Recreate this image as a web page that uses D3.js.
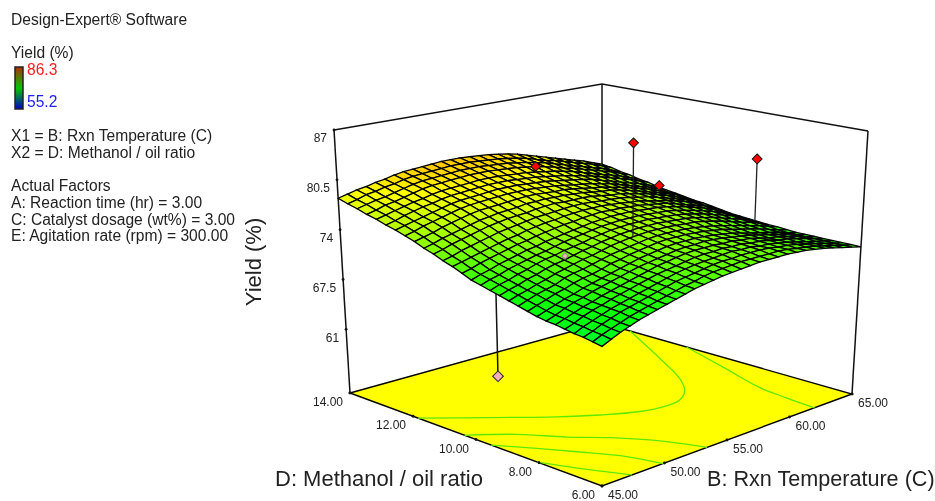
<!DOCTYPE html>
<html>
<head>
<meta charset="utf-8">
<style>
  html, body { margin: 0; padding: 0; background: #fff; }
  svg { display: block; filter: blur(0.5px); }
  text { font-family: "Liberation Sans", Arial, sans-serif; fill: #222; }
</style>
<script src="https://cdn.jsdelivr.net/npm/d3@7"></script>
</head>
<body>
<div id="chart"></div>
<script>
var infoLines = [
  ["Design-Expert® Software", 20],
  ["Yield (%)", 53],
  ["X1 = B: Rxn Temperature (C)", 136],
  ["X2 = D: Methanol / oil ratio", 153],
  ["Actual Factors", 186],
  ["A: Reaction time (hr) = 3.00", 203],
  ["C: Catalyst dosage (wt%) = 3.00", 220],
  ["E: Agitation rate (rpm) = 300.00", 236]
];
var yieldTicks = [61, 67.5, 74, 80.5, 87];
var yieldTickLabels = ["61", "67.5", "74", "80.5", "87"];
var ratioTicks = [14, 12, 10, 8, 6];
var tempTicks = [45, 50, 55, 60, 65];

// yield: rows go D = 14 -> 6, columns go B = 45 -> 65
var yieldGrid = [
[78.1,78.4,78.7,78.9,79.2,79.4,79.7,79.9,80.0,80.1,80.2,80.3,80.3,80.3,80.2,80.1,80.0,79.8,79.6,79.3,78.9,78.5,78.1,77.7,77.3,76.9,76.5,76.0,75.5],
[77.7,78.0,78.4,78.6,78.9,79.1,79.4,79.6,79.7,79.8,79.9,80.0,80.0,80.0,79.9,79.8,79.7,79.5,79.3,79.0,78.6,78.2,77.9,77.5,77.1,76.7,76.3,75.8,75.3],
[77.4,77.7,78.0,78.2,78.5,78.8,79.1,79.3,79.4,79.5,79.6,79.7,79.7,79.7,79.6,79.5,79.4,79.2,79.0,78.7,78.4,78.0,77.6,77.2,76.8,76.4,76.0,75.5,75.0],
[77.0,77.3,77.7,77.9,78.2,78.5,78.8,79.0,79.1,79.2,79.3,79.4,79.4,79.4,79.3,79.2,79.1,78.9,78.7,78.4,78.1,77.7,77.4,77.0,76.6,76.2,75.8,75.3,74.8],
[76.7,77.0,77.3,77.6,77.9,78.1,78.4,78.6,78.7,78.8,78.9,79.0,79.0,79.0,78.9,78.8,78.7,78.5,78.3,78.1,77.8,77.5,77.1,76.7,76.3,75.9,75.5,75.0,74.5],
[76.3,76.6,77.0,77.3,77.6,77.8,78.1,78.3,78.4,78.5,78.6,78.7,78.7,78.7,78.6,78.5,78.4,78.2,78.0,77.8,77.5,77.2,76.9,76.5,76.1,75.7,75.3,74.8,74.3],
[76.0,76.3,76.6,76.9,77.2,77.5,77.8,78.0,78.1,78.2,78.3,78.4,78.4,78.4,78.3,78.2,78.1,77.9,77.7,77.5,77.3,77.0,76.6,76.2,75.8,75.4,75.0,74.5,74.0],
[75.6,75.9,76.3,76.6,76.9,77.2,77.5,77.7,77.8,77.9,78.0,78.1,78.1,78.1,78.0,77.9,77.8,77.6,77.4,77.2,77.0,76.7,76.4,76.0,75.6,75.2,74.8,74.3,73.8],
[75.2,75.5,75.8,76.2,76.5,76.8,77.1,77.3,77.4,77.5,77.6,77.7,77.8,77.8,77.7,77.6,77.6,77.4,77.2,77.0,76.8,76.5,76.2,75.9,75.5,75.1,74.6,74.1,73.6],
[74.7,75.0,75.4,75.7,76.0,76.3,76.6,76.8,77.0,77.1,77.2,77.4,77.4,77.5,77.4,77.4,77.3,77.2,77.0,76.8,76.7,76.4,76.1,75.7,75.3,74.9,74.5,74.0,73.4],
[74.3,74.6,75.0,75.3,75.6,75.9,76.2,76.4,76.6,76.7,76.8,77.0,77.1,77.2,77.1,77.1,77.1,77.0,76.8,76.6,76.5,76.2,75.9,75.6,75.2,74.8,74.3,73.8,73.2],
[73.8,74.1,74.5,74.8,75.1,75.4,75.7,75.9,76.1,76.3,76.5,76.6,76.7,76.8,76.9,76.9,76.8,76.7,76.6,76.5,76.3,76.0,75.8,75.4,75.0,74.6,74.2,73.6,73.1],
[73.4,73.7,74.0,74.3,74.6,74.9,75.2,75.4,75.7,75.9,76.1,76.2,76.4,76.5,76.6,76.6,76.6,76.5,76.4,76.2,76.1,75.8,75.5,75.3,74.9,74.5,74.0,73.4,72.9],
[72.9,73.2,73.6,73.9,74.2,74.5,74.8,75.0,75.3,75.5,75.7,75.9,76.0,76.2,76.3,76.4,76.3,76.3,76.2,76.1,75.9,75.7,75.5,75.1,74.7,74.3,73.9,73.3,72.7],
[72.4,72.8,73.1,73.5,73.8,74.1,74.4,74.6,74.9,75.1,75.3,75.5,75.7,75.9,76.0,76.1,76.1,76.1,76.0,75.9,75.8,75.6,75.3,75.0,74.6,74.2,73.7,73.1,72.5],
[72.1,72.5,72.8,73.2,73.5,73.8,74.1,74.3,74.6,74.9,75.1,75.3,75.5,75.7,75.8,75.9,75.9,75.9,75.8,75.7,75.6,75.4,75.1,74.8,74.4,74.0,73.5,73.0,72.4],
[71.8,72.2,72.5,72.9,73.2,73.6,73.9,74.1,74.4,74.6,74.8,75.1,75.3,75.5,75.6,75.7,75.7,75.7,75.6,75.5,75.4,75.2,74.9,74.6,74.2,73.8,73.4,72.8,72.3],
[71.5,71.9,72.2,72.6,72.9,73.3,73.6,73.8,74.1,74.4,74.6,74.9,75.1,75.3,75.4,75.5,75.5,75.5,75.4,75.3,75.2,75.0,74.7,74.4,74.0,73.6,73.2,72.7,72.2],
[71.2,71.6,71.9,72.3,72.6,73.0,73.3,73.6,73.9,74.1,74.4,74.7,74.9,75.1,75.2,75.3,75.3,75.3,75.2,75.1,75.0,74.8,74.5,74.2,73.8,73.4,73.1,72.6,72.1],
[70.9,71.3,71.7,72.0,72.3,72.8,73.1,73.3,73.6,73.9,74.2,74.4,74.6,74.8,75.0,75.1,75.1,75.1,75.0,74.9,74.7,74.5,74.2,73.9,73.6,73.2,72.9,72.5,72.1],
[70.6,71.0,71.4,71.8,72.1,72.5,72.8,73.0,73.3,73.7,73.9,74.2,74.4,74.6,74.8,74.9,74.9,74.9,74.8,74.7,74.5,74.3,74.0,73.7,73.4,73.1,72.7,72.3,72.0],
[70.3,70.7,71.1,71.5,71.8,72.2,72.5,72.8,73.1,73.4,73.7,74.0,74.2,74.4,74.6,74.7,74.7,74.7,74.6,74.5,74.3,74.1,73.8,73.5,73.2,72.9,72.6,72.2,71.9],
[70.1,70.5,71.0,71.4,71.7,72.1,72.4,72.7,73.0,73.3,73.6,73.8,74.0,74.2,74.4,74.5,74.5,74.6,74.5,74.4,74.2,74.0,73.8,73.5,73.2,72.9,72.6,72.2,71.9],
[70.0,70.4,70.8,71.2,71.5,71.9,72.2,72.5,72.8,73.1,73.4,73.7,73.9,74.1,74.3,74.4,74.4,74.4,74.3,74.3,74.1,74.0,73.7,73.4,73.2,72.9,72.6,72.2,71.9],
[69.8,70.2,70.7,71.1,71.4,71.8,72.1,72.4,72.7,73.0,73.3,73.5,73.7,73.9,74.1,74.2,74.2,74.3,74.2,74.2,74.0,73.9,73.7,73.4,73.2,72.9,72.6,72.2,71.9],
[69.6,70.1,70.5,70.9,71.3,71.6,71.9,72.2,72.5,72.8,73.1,73.4,73.6,73.8,73.9,74.0,74.1,74.2,74.1,74.1,73.9,73.8,73.6,73.4,73.1,72.8,72.5,72.2,71.9],
[69.5,69.9,70.4,70.8,71.2,71.5,71.8,72.1,72.4,72.7,73.0,73.2,73.4,73.6,73.8,73.9,73.9,74.0,74.0,74.0,73.9,73.7,73.6,73.4,73.1,72.8,72.5,72.2,71.9],
[69.3,69.8,70.2,70.6,71.0,71.3,71.6,71.9,72.2,72.5,72.8,73.0,73.3,73.5,73.6,73.7,73.8,73.8,73.8,73.8,73.8,73.7,73.5,73.3,73.1,72.8,72.5,72.2,71.9],
[69.1,69.6,70.1,70.5,70.9,71.2,71.5,71.8,72.1,72.4,72.7,72.9,73.1,73.3,73.4,73.5,73.6,73.7,73.7,73.7,73.7,73.6,73.5,73.3,73.1,72.8,72.5,72.2,71.9]
];

// contour lines on the floor, [B, D] pairs
var contourA = [[45,11.84],[48.2,10.8],[51,9.84],[53,9.25],[55,8.78],[56.6,8.62],[57.96,8.69],[59.26,9.05],[60.6,9.74],[62.42,11.1],[65,13.1]];
var contourB = [[45,10.36],[47.34,9.62],[49.08,8.73],[50.74,8.02],[52.34,7.07],[53.4,6]];
var contourC = [[45,9.52],[46.42,8.74],[47.8,7.9],[49.24,6.9],[49.88,6]];
var contourD = [[45,8.05],[45.98,7.17],[47.4,6]];
var contourE = [[65,11.3],[63.6,9.45],[62.5,7.96],[62.2,6.98],[62,6]];

// design points
var pointTemp  = [65, 54.6, 65, 57, 50.4];
var pointRatio = [9.28, 8.88, 12.24, 12.8, 9.28];
var pointYield = [80.6, 87.1, 74.2, 79.4, 74.0];
var lowTemp = 51.2, lowRatio = 11.76, lowYield = 55.2;

var width = 935, height = 501;

var svg = d3.select("#chart").append("svg")
  .attr("width", width)
  .attr("height", height);

var pScale = d3.scaleLinear().domain([45, 65]).range([0, 1]);
var qScale = d3.scaleLinear().domain([14, 6]).range([0, 1]);
var wScale = d3.scaleLinear().domain([52.7, 87]).range([0, 1]);
var nodeTemp = d3.scaleLinear().domain([0, 28]).range([45, 65]);
var nodeRatio = d3.scaleLinear().domain([0, 28]).range([14, 6]);
var colorScale = d3.scaleLinear()
  .domain([55.2, 62.9, 70.75, 78.5, 86.3])
  .range(["#0000ff", "#00ffff", "#00ff00", "#ffff00", "#ff0000"]);

// box corners on screen: floor and lid, left / back / right / front
var floorBox = { L: [350, 393], K: [602, 323], R: [852, 394], F: [602, 486] };
var lidBox   = { L: [334, 130], K: [602, 84],  R: [868, 131], F: [602, 194] };

function corner(box, p, q, i) {
  return box.L[i] * (1 - p) * (1 - q) + box.K[i] * p * (1 - q) + box.R[i] * p * q + box.F[i] * (1 - p) * q;
}
function project(b, d, y) {
  var p = pScale(b), q = qScale(d), w = wScale(y);
  return [
    corner(floorBox, p, q, 0) * (1 - w) + corner(lidBox, p, q, 0) * w,
    corner(floorBox, p, q, 1) * (1 - w) + corner(lidBox, p, q, 1) * w
  ];
}
var line = d3.line();
var floorY = 52.7, topY = 87;

function surfaceAt(b, d) {
  var j = Math.round(nodeTemp.invert(b)), i = Math.round(nodeRatio.invert(d));
  return yieldGrid[i][j];
}

// back frame
var frame = [
  [[45, 14, topY], [65, 14, topY], [65, 6, topY]],
  [[65, 14, floorY], [65, 14, topY]],
  [[45, 14, floorY], [45, 14, topY]],
  [[65, 6, floorY], [65, 6, topY]]
];
svg.selectAll(".frame").data(frame).enter().append("path")
  .attr("class", "frame")
  .attr("fill", "none")
  .attr("stroke", "#111")
  .attr("stroke-width", 1.5)
  .attr("d", function(d) { return line(d.map(function(c) { return project(c[0], c[1], c[2]); })); });

// floor
var floorPath = [[45, 14], [65, 14], [65, 6], [45, 6]];
svg.append("path")
  .attr("fill", "#ffff00")
  .attr("stroke", "#000")
  .attr("stroke-width", 1.4)
  .attr("d", line(floorPath.map(function(c) { return project(c[0], c[1], floorY); })) + "Z");

var contourLine = d3.line().curve(d3.curveCatmullRom);
svg.selectAll(".contour").data([contourA, contourB, contourC, contourD, contourE]).enter().append("path")
  .attr("class", "contour")
  .attr("fill", "none")
  .attr("stroke", "#5fe800")
  .attr("stroke-width", 1.3)
  .attr("d", function(d) { return contourLine(d.map(function(c) { return project(c[0], c[1], floorY); })); });

// low point sits under the surface, so it goes first
var lowStem = [project(lowTemp, lowRatio, lowYield), project(lowTemp, lowRatio, surfaceAt(lowTemp, lowRatio))];
svg.append("path")
  .attr("stroke", "#111")
  .attr("stroke-width", 1.5)
  .attr("d", line(lowStem));

var marker = d3.symbol().type(d3.symbolSquare);
svg.append("path")
  .attr("d", marker.size(58)())
  .attr("transform", "translate(" + lowStem[0] + ") rotate(45)")
  .attr("fill", "#f2b0b8")
  .attr("stroke", "#222")
  .attr("stroke-width", 1);

// surface, painted from the back corner to the front
var facets = [];
d3.range(28).forEach(function(i) {
  d3.range(27, -1, -1).forEach(function(j) {
    facets.push({ i: i, j: j });
  });
});
function node(i, j) {
  return project(nodeTemp(j), nodeRatio(i), yieldGrid[i][j]);
}
svg.selectAll(".facet").data(facets).enter().append("path")
  .attr("class", "facet")
  .attr("fill", function(d) {
    return colorScale((yieldGrid[d.i][d.j] + yieldGrid[d.i + 1][d.j] + yieldGrid[d.i][d.j + 1] + yieldGrid[d.i + 1][d.j + 1]) / 4);
  })
  .attr("stroke", "#000")
  .attr("stroke-width", 1.3)
  .attr("d", function(d) {
    return line([node(d.i, d.j), node(d.i, d.j + 1), node(d.i + 1, d.j + 1), node(d.i + 1, d.j)]) + "Z";
  });

// design points above the surface
pointYield.forEach(function(y, n) {
  var b = pointTemp[n], r = pointRatio[n];
  var top = project(b, r, y), foot = project(b, r, surfaceAt(b, r));
  svg.append("path")
    .attr("stroke", "#222")
    .attr("stroke-width", 1.3)
    .attr("d", line([top, foot]));
  svg.append("path")
    .attr("d", marker.size(n == 4 ? 20 : 48)())
    .attr("transform", "translate(" + top + ") rotate(45)")
    .attr("fill", n == 4 ? "#f2b0b8" : "#ff0000")
    .attr("stroke", n == 4 ? "#888" : "#111")
    .attr("stroke-width", 1);
});

// axis ticks and labels
function tickMark(pos) {
  svg.append("circle").attr("cx", pos[0]).attr("cy", pos[1]).attr("r", 1.4).attr("fill", "#111");
}
yieldTicks.forEach(function(t, n) {
  var pos = project(45, 14, t);
  tickMark(pos);
  svg.append("text")
    .attr("x", pos[0] - 7).attr("y", pos[1] + 8)
    .attr("dy", "0.35em")
    .attr("text-anchor", "end")
    .attr("font-size", 12)
    .text(yieldTickLabels[n]);
});
ratioTicks.forEach(function(t) {
  var pos = project(45, t, floorY);
  tickMark(pos);
  svg.append("text")
    .attr("x", pos[0] - 7).attr("y", pos[1] + 9)
    .attr("dy", "0.35em")
    .attr("text-anchor", "end")
    .attr("font-size", 12)
    .text(d3.format(".2f")(t));
});
tempTicks.forEach(function(t) {
  var pos = project(t, 6, floorY);
  tickMark(pos);
  svg.append("text")
    .attr("x", pos[0] + 6).attr("y", pos[1] + 9)
    .attr("dy", "0.35em")
    .attr("font-size", 12)
    .text(d3.format(".2f")(t));
});

svg.append("text")
  .attr("transform", "translate(253,262) rotate(-90)")
  .attr("text-anchor", "middle")
  .attr("dy", "0.35em")
  .attr("font-size", 22)
  .text("Yield (%)");
svg.append("text")
  .attr("x", 275).attr("y", 478).attr("dy", "0.35em")
  .attr("font-size", 22)
  .text("D: Methanol / oil ratio");
svg.append("text")
  .attr("x", 707).attr("y", 478).attr("dy", "0.35em")
  .attr("font-size", 21.6)
  .text("B: Rxn Temperature (C)");

// info text and legend
svg.selectAll(".info").data(infoLines).enter().append("text")
  .attr("class", "info")
  .attr("x", 11)
  .attr("y", function(d) { return d[1]; })
  .attr("dy", "0.35em")
  .attr("font-size", 15.6)
  .text(function(d) { return d[0]; });

var grad = svg.append("defs").append("linearGradient")
  .attr("id", "legendGrad")
  .attr("x1", 0).attr("x2", 0).attr("y1", 0).attr("y2", 1);
grad.selectAll("stop").data(["#b03000", "#00c800", "#0000c0"]).enter().append("stop")
  .attr("offset", function(d, i) { return i / 2; })
  .attr("stop-color", function(d) { return d; });
svg.append("rect")
  .attr("x", 15).attr("y", 67).attr("width", 8).attr("height", 42)
  .attr("fill", "url(#legendGrad)")
  .attr("stroke", "#222")
  .attr("stroke-width", 1.5);
svg.append("text")
  .attr("x", 27).attr("y", 70).attr("dy", "0.35em")
  .attr("font-size", 15.6).style("fill", "#ff2020").text("86.3");
svg.append("text")
  .attr("x", 27).attr("y", 102).attr("dy", "0.35em")
  .attr("font-size", 15.6).style("fill", "#2020ff").text("55.2");
</script>
</body>
</html>
